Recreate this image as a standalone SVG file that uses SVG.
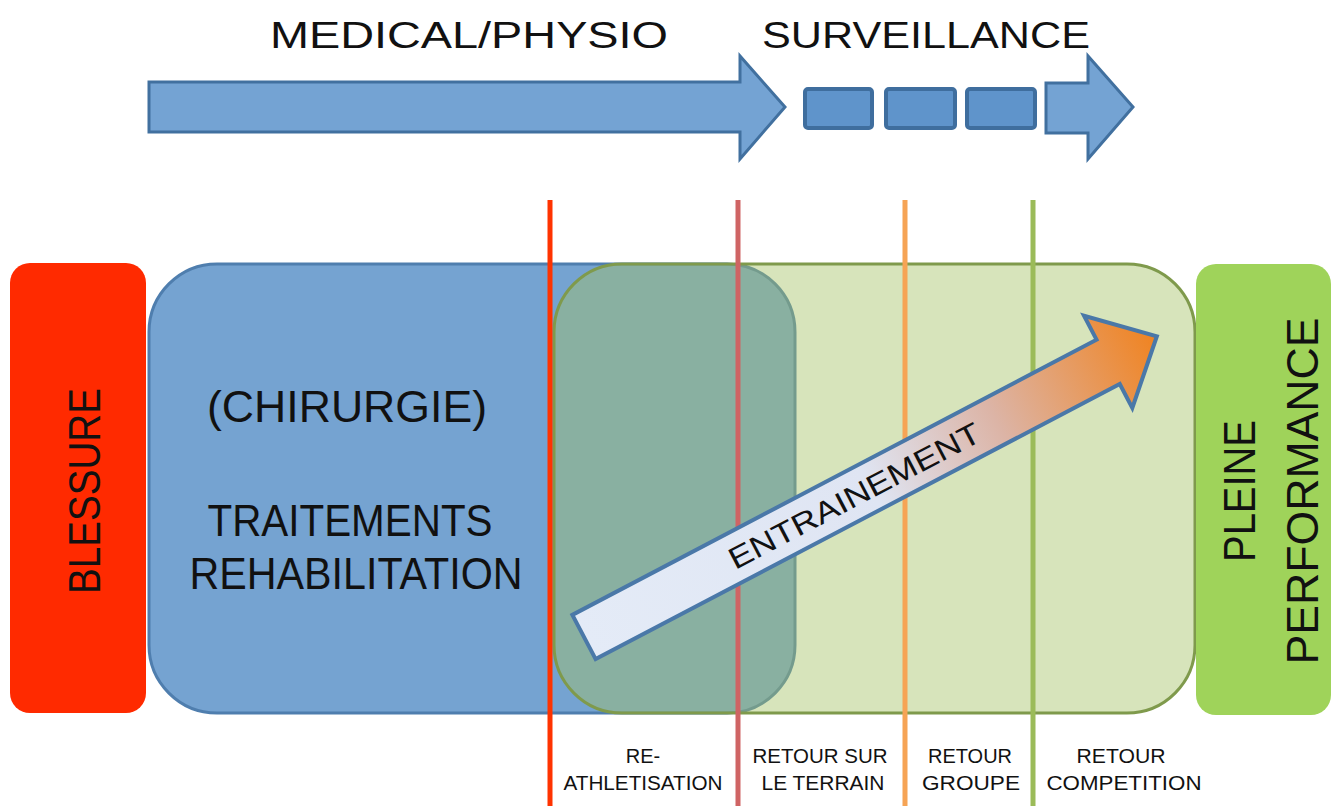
<svg xmlns="http://www.w3.org/2000/svg" width="1341" height="809" viewBox="0 0 1341 809">
<defs>
<style>
text{font-family:"Liberation Sans","DejaVu Sans",sans-serif;fill:#111;}
.big{font-size:44px;}
.top{font-size:36px;}
.lbl{font-size:20px;text-anchor:middle;}
.phase{fill:#74a3d3;stroke:#41709f;stroke-width:3;stroke-linejoin:miter;}
.dash{fill:#5f94cb;stroke:#3f6e9e;stroke-width:4;}
.vline{stroke-width:5;fill:none;}
</style>
<linearGradient id="gEnt" x1="0" y1="0" x2="647" y2="0" gradientUnits="userSpaceOnUse">
<stop offset="0" stop-color="#e4ebf7"/>
<stop offset="0.5" stop-color="#dfe5f3"/>
<stop offset="0.72" stop-color="#dcb4a6"/>
<stop offset="1" stop-color="#f08320"/>
</linearGradient>
</defs>
<rect width="1341" height="809" fill="#ffffff"/>

<g id="phase-titles">
<text class="top" x="469" y="48" text-anchor="middle" textLength="398" lengthAdjust="spacingAndGlyphs">MEDICAL/PHYSIO</text>
<text class="top" x="926" y="48" text-anchor="middle" textLength="328" lengthAdjust="spacingAndGlyphs">SURVEILLANCE</text>
</g>

<g id="connectors">
<path id="arrow-medical" class="phase" d="M149,82 L740,82 L740,56 L785,107 L740,159 L740,132 L149,132 Z"/>
<g id="arrow-surveillance">
<rect class="dash" x="805" y="89" width="67" height="39" rx="3"/>
<rect class="dash" x="886" y="89" width="69" height="39" rx="3"/>
<rect class="dash" x="967" y="89" width="68" height="39" rx="3"/>
<path class="phase" d="M1046,83 L1088,83 L1088,56 L1133,107 L1088,159 L1088,133 L1046,133 Z"/>
</g>
</g>

<g id="blessure">
<rect x="10" y="263" width="136" height="450" rx="20" fill="#ff2a00"/>
<text class="big" transform="translate(100,491) rotate(-90)" text-anchor="middle" textLength="206" lengthAdjust="spacingAndGlyphs">BLESSURE</text>
</g>

<g id="medical">
<rect x="149" y="264" width="646" height="449" rx="68" fill="#75a3d1" stroke="#4f7eae" stroke-width="3"/>
<text class="big" x="347" y="422" text-anchor="middle" textLength="280" lengthAdjust="spacingAndGlyphs">(CHIRURGIE)</text>
<text class="big" x="350" y="536" text-anchor="middle" textLength="285" lengthAdjust="spacingAndGlyphs">TRAITEMENTS</text>
<text class="big" x="356" y="589" text-anchor="middle" textLength="333" lengthAdjust="spacingAndGlyphs">REHABILITATION</text>
</g>

<g id="training-zone">
<rect x="554" y="264" width="641" height="449" rx="68" fill="#a5c165" fill-opacity="0.44" stroke="#7f9a4c" stroke-width="3"/>
</g>

<g id="pleine-performance">
<rect x="1196" y="264" width="135" height="451" rx="20" fill="#9fd35a"/>
<text class="big" transform="translate(1255,491) rotate(-90)" text-anchor="middle" textLength="142" lengthAdjust="spacingAndGlyphs">PLEINE</text>
<text class="big" transform="translate(1318,491) rotate(-90)" text-anchor="middle" textLength="347" lengthAdjust="spacingAndGlyphs">PERFORMANCE</text>
</g>

<g id="milestones">
<line class="vline" x1="550" y1="200" x2="550" y2="806" stroke="#ff3300"/>
<line class="vline" x1="738" y1="200" x2="738" y2="806" stroke="#cf6464"/>
<line class="vline" x1="905" y1="200" x2="905" y2="806" stroke="#f6a455"/>
<line class="vline" x1="1033" y1="200" x2="1033" y2="806" stroke="#9bbb59"/>
<text class="lbl" x="643" y="763">RE-</text>
<text class="lbl" x="643" y="790" textLength="159" lengthAdjust="spacingAndGlyphs">ATHLETISATION</text>
<text class="lbl" x="820" y="763" textLength="135" lengthAdjust="spacingAndGlyphs">RETOUR SUR</text>
<text class="lbl" x="823" y="790" textLength="123" lengthAdjust="spacingAndGlyphs">LE TERRAIN</text>
<text class="lbl" x="970" y="763" textLength="84" lengthAdjust="spacingAndGlyphs">RETOUR</text>
<text class="lbl" x="971" y="790" textLength="98" lengthAdjust="spacingAndGlyphs">GROUPE</text>
<text class="lbl" x="1121" y="763" textLength="89" lengthAdjust="spacingAndGlyphs">RETOUR</text>
<text class="lbl" x="1124" y="790" textLength="155" lengthAdjust="spacingAndGlyphs">COMPETITION</text>
</g>

<g id="entrainement" transform="translate(584,637) rotate(-27.7)">
<path d="M0,-25 L592,-25 L592,-52 L647,0 L592,52 L592,25 L0,25 Z" fill="url(#gEnt)" stroke="#4a78a8" stroke-width="4" stroke-linejoin="miter"/>
<text x="305" y="11" font-size="30" text-anchor="middle" textLength="280" lengthAdjust="spacingAndGlyphs">ENTRAINEMENT</text>
</g>
</svg>
